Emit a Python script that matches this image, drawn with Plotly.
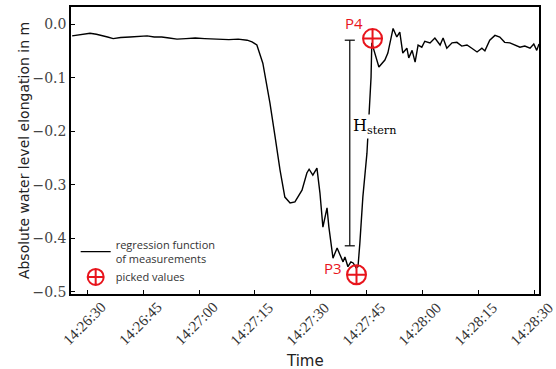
import pandas as pd
import plotly.graph_objects as go

BASE = "2020-01-01 14:26:30"

# seconds after 14:26:30 and elongation in m (regression curve)
t_sec = [-4.0, -2.0, 0.8, 2.5, 4.0, 5.5, 7.0, 9.0, 11.5, 13.5, 16.1, 18.0, 20.0, 22.0, 24.1,
         26.5, 29.0, 31.5, 33.8, 36.0, 38.0, 40.5, 42.9, 44.2, 45.5, 47.1,
         49.0, 50.4, 51.7, 53.0, 54.4, 55.7, 57.6, 58.9, 59.5, 60.5, 61.6, 62.4, 63.2, 64.3,
         64.8, 65.9, 67.0, 67.8, 68.6, 69.1, 69.9, 70.7, 71.3, 72.1, 72.6, 73.1, 73.9, 75.0,
         75.5, 76.1, 76.3, 77.1, 78.2, 79.8, 80.6, 82.0, 83.0, 83.8, 84.6, 85.7, 86.2, 87.1,
         87.9, 88.7, 89.7, 90.5, 91.9, 93.2, 94.6, 95.4, 96.4, 97.8, 99.1, 100.4, 101.8,
         103.1, 104.5, 105.8, 106.6, 107.9, 109.3, 110.6, 111.9, 113.3, 114.6, 116.0, 117.3,
         118.7, 119.7, 120.5, 121.1]
elong = [-0.022, -0.020, -0.017, -0.019, -0.021, -0.024, -0.027, -0.025, -0.024, -0.023,
         -0.022, -0.024, -0.024, -0.026, -0.028, -0.027, -0.026, -0.027, -0.028, -0.029,
         -0.029, -0.028, -0.030, -0.033, -0.039, -0.073, -0.147, -0.211, -0.272, -0.323,
         -0.334, -0.332, -0.310, -0.278, -0.271, -0.282, -0.269, -0.315, -0.379, -0.343,
         -0.379, -0.437, -0.418, -0.431, -0.444, -0.435, -0.453, -0.444, -0.446, -0.455,
         -0.453, -0.409, -0.323, -0.241, -0.174, -0.099, -0.035, -0.054, -0.080, -0.067,
         -0.054, -0.008, -0.024, -0.015, -0.054, -0.045, -0.063, -0.049, -0.071, -0.039,
         -0.043, -0.032, -0.035, -0.026, -0.039, -0.026, -0.045, -0.035, -0.034, -0.041,
         -0.039, -0.045, -0.052, -0.045, -0.050, -0.030, -0.021, -0.024, -0.034, -0.035,
         -0.039, -0.043, -0.041, -0.045, -0.037, -0.049, -0.037]

# picked values
pick_names = ["P3", "P4"]
pick_sec = [72.2, 76.5]
pick_val = [-0.468, -0.027]

# H_stern range bar
h_sec = 70.4
h_low, h_high = -0.414, -0.030

x_range_sec = [-4.3, 121.1]
y_range = [-0.504, 0.032]
x_tick_labels = ["14:26:30", "14:26:45", "14:27:00", "14:27:15", "14:27:30",
                 "14:27:45", "14:28:00", "14:28:15", "14:28:30"]
y_tick_vals = [0.0, -0.1, -0.2, -0.3, -0.4, -0.5]
y_tick_text = ["0.0", "\u22120.1", "\u22120.2", "\u22120.3", "\u22120.4", "\u22120.5"]

base = pd.Timestamp(BASE)
def tt(s):
    return base + pd.to_timedelta(s, unit="s")

t_curve = [tt(s) for s in t_sec]
t_pick = [tt(s) for s in pick_sec]
x_ticks = [pd.Timestamp("2020-01-01 " + l) for l in x_tick_labels]

RED = "#e8141c"

fig = go.Figure()
fig.add_trace(go.Scatter(x=t_curve, y=elong, mode="lines",
                         line=dict(color="black", width=1.4),
                         name="regression function<br>of measurements"))
fig.add_trace(go.Scatter(x=t_pick, y=pick_val, mode="markers",
                         marker=dict(symbol="circle-cross-open", size=19, color=RED,
                                     line=dict(width=2, color=RED)),
                         name="picked values"))
# H bar (vertical line with caps)
fig.add_trace(go.Scatter(x=[tt(h_sec), tt(h_sec)], y=[h_low, h_high], mode="lines",
                         line=dict(color="black", width=1.2), showlegend=False,
                         hoverinfo="skip"))
for v in (h_low, h_high):
    fig.add_shape(type="line", xref="x", yref="y", x0=tt(h_sec - 1.35), x1=tt(h_sec + 1.35),
                  y0=v, y1=v, line=dict(color="black", width=1.2))

fig.add_annotation(x=tt(77.1), y=-0.192, text="H<sub>stern</sub>", showarrow=False,
                   font=dict(family="DejaVu Serif", size=16, color="black"),
                   bgcolor="white", borderpad=1)
fig.add_annotation(x=t_pick[1], y=pick_val[1], text=pick_names[1], showarrow=False,
                   xshift=-19, yshift=16,
                   font=dict(family="Open Sans", size=15, color=RED))
fig.add_annotation(x=t_pick[0], y=pick_val[0], text=pick_names[0], showarrow=False,
                   xshift=-24, yshift=7,
                   font=dict(family="Open Sans", size=15, color=RED))

# rotated x tick labels (matplotlib-style, centred under each tick)
for tv, lab in zip(x_ticks, x_tick_labels):
    fig.add_annotation(x=tv, y=0, xref="x", yref="paper", text=lab, showarrow=False,
                       textangle=-45, xanchor="center", yanchor="middle",
                       xshift=-3, yshift=-30,
                       font=dict(family="Liberation Serif", size=15, color="#333"))
# x axis title
fig.add_annotation(x=0.5, y=0, xref="paper", yref="paper", text="Time", showarrow=False,
                   xanchor="center", yanchor="middle", yshift=-67,
                   font=dict(family="DejaVu Sans", size=15, color="#222"))

fig.update_layout(
    width=556, height=369,
    margin=dict(l=71, r=17, t=7, b=75),
    paper_bgcolor="white", plot_bgcolor="white",
    showlegend=True,
    legend=dict(x=0.01, y=0.22, xanchor="left", yanchor="top",
                bgcolor="rgba(0,0,0,0)",
                font=dict(family="Open Sans", size=11, color="#333"),
                tracegroupgap=6),
    xaxis=dict(range=[tt(x_range_sec[0]), tt(x_range_sec[1])],
               tickvals=x_ticks, showticklabels=False, automargin=False,
               ticks="inside", ticklen=4, tickcolor="black",
               showline=True, linecolor="black", linewidth=1.5, mirror=True,
               showgrid=False, zeroline=False),
    yaxis=dict(range=y_range, tickvals=y_tick_vals, ticktext=y_tick_text,
               automargin=False,
               ticks="inside", ticklen=4, tickcolor="black",
               showline=True, linecolor="black", linewidth=1.5, mirror=True,
               showgrid=False, zeroline=False,
               tickfont=dict(family="DejaVu Serif", size=14, color="#444"),
               title=dict(text="Absolute water level elongation in m",
                          font=dict(family="DejaVu Sans", size=14, color="#222"),
                          standoff=0)),
)

fig.write_html("out.html")
